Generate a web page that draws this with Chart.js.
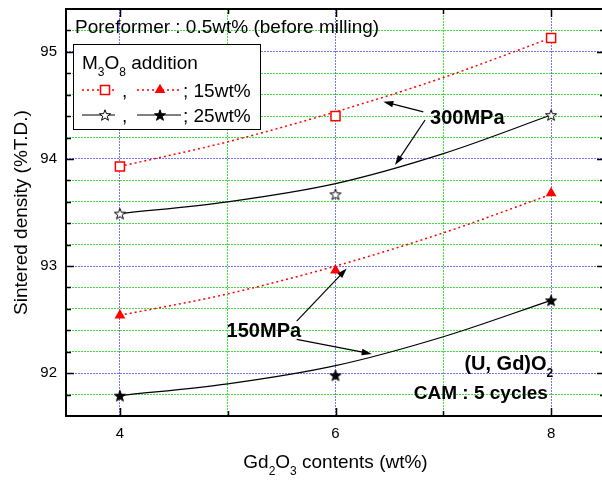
<!DOCTYPE html>
<html>
<head>
<meta charset="utf-8">
<title>Sintered density vs Gd2O3 contents</title>
<script src="https://cdn.jsdelivr.net/npm/chart.js@4.4.1/dist/chart.umd.min.js"></script>
<style>
  html, body { margin: 0; padding: 0; background: #fff; overflow: hidden; }
  /* el marco derecho queda justo fuera de la vista, como en la imagen */
  #wrap { width: 602px; height: 480px; overflow: hidden; }
</style>
</head>
<body>
<div id="wrap"><canvas id="myChart" width="606" height="480"></canvas></div>
<script>
/* Datos */
const gdContents = [4, 6, 8];
const sq300 = [93.93, 94.40, 95.13];      // 15wt%, 300MPa (cuadro abierto)
const star300 = [93.49, 93.67, 94.41];    // 25wt%, 300MPa (estrella abierta)
const tri150 = [92.54, 92.96, 93.68];     // 15wt%, 150MPa (triangulo)
const star150 = [91.79, 91.98, 92.68];    // 25wt%, 150MPa (estrella llena)

const fitX = [4, 5, 6, 7, 8];
const fitSq300 = [93.93, 94.16, 94.44, 94.76, 95.13];
const fitStar300 = [93.49, 93.60, 93.77, 94.05, 94.41];
const fitTri150 = [92.54, 92.74, 93.00, 93.31, 93.67];
const fitStar150 = [91.79, 91.90, 92.07, 92.34, 92.68];

/* Ejes */
const xLabels = [4, 6, 8];
const xMinor = [5, 7];
const yLabels = [92, 93, 94, 95];

const FONT = "'Liberation Sans', Arial, sans-serif";
const BLUE = 'rgba(70, 70, 255, 0.75)';
const GREEN = 'rgba(0, 215, 0, 0.75)';

const pts = (xs, ys) => xs.map((x, i) => ({ x: x, y: ys[i] }));
const isInt = v => Math.abs(v - Math.round(v)) < 1e-6;
const inList = (list, v) => list.some(m => Math.abs(m - v) < 1e-6);

/* Estrella de 5 puntas como imagen */
function makeStar(filled) {
    const c = document.createElement('canvas');
    c.width = 14; c.height = 14;
    const g = c.getContext('2d');
    g.beginPath();
    for (let i = 0; i < 10; i++) {
        const r = i % 2 === 0 ? 5.8 : 2.4;
        const a = -Math.PI / 2 + i * Math.PI / 5;
        const px = 7 + r * Math.cos(a), py = 7.6 + r * Math.sin(a);
        if (i === 0) g.moveTo(px, py); else g.lineTo(px, py);
    }
    g.closePath();
    g.fillStyle = filled ? '#000' : '#fff';
    g.fill();
    g.lineWidth = 1;
    g.strokeStyle = '#000';
    g.stroke();
    return c;
}
const openStar = makeStar(false);
const fullStar = makeStar(true);

/* Texto con subindices: parts = [[texto, esSub], ...] */
function richText(ctx, parts, x, y, size, weight, align) {
    const fontOf = p => `${weight} ${p[1] ? Math.round(size * 0.62) : size}px ${FONT}`;
    let w = 0;
    parts.forEach(p => { ctx.font = fontOf(p); w += ctx.measureText(p[0]).width; });
    let cx = align === 'center' ? x - w / 2 : (align === 'right' ? x - w : x);
    ctx.textAlign = 'left';
    ctx.textBaseline = 'alphabetic';
    ctx.fillStyle = '#000';
    parts.forEach(p => {
        ctx.font = fontOf(p);
        ctx.fillText(p[0], cx, p[1] ? y + size * 0.36 : y);
        cx += ctx.measureText(p[0]).width;
    });
}

function arrow(ctx, x1, y1, x2, y2) {
    const a = Math.atan2(y2 - y1, x2 - x1);
    const len = 10, half = 3.2;
    ctx.beginPath();
    ctx.moveTo(x1, y1);
    ctx.lineTo(x2 - Math.cos(a) * len * 0.8, y2 - Math.sin(a) * len * 0.8);
    ctx.lineWidth = 1.2;
    ctx.strokeStyle = '#000';
    ctx.stroke();
    ctx.beginPath();
    ctx.moveTo(x2, y2);
    ctx.lineTo(x2 - Math.cos(a) * len - Math.sin(a) * half, y2 - Math.sin(a) * len + Math.cos(a) * half);
    ctx.lineTo(x2 - Math.cos(a) * len + Math.sin(a) * half, y2 - Math.sin(a) * len - Math.cos(a) * half);
    ctx.closePath();
    ctx.fillStyle = '#000';
    ctx.fill();
}

/* Anotaciones en unidades de datos */
const notes = [
    { parts: [['300MPa', 0]], x: 6.877, y: 94.33, size: 20, align: 'left' },
    { parts: [['150MPa', 0]], x: 4.99, y: 92.34, size: 20, align: 'left' },
    { parts: [['(U, Gd)O', 0], ['2', 1]], x: 8.02, y: 92.03, size: 20, align: 'right' },
    { parts: [['CAM : 5 cycles', 0]], x: 7.97, y: 91.76, size: 19, align: 'right' }
];
const arrows = [
    [6.815, 94.44, 6.444, 94.535],
    [6.831, 94.364, 6.552, 93.943],
    [5.64, 92.486, 6.104, 92.977],
    [5.64, 92.315, 6.336, 92.18]
];

const framePlugin = {
    id: 'frame',
    afterDraw(chart) {
        const ctx = chart.ctx;
        const ca = chart.chartArea;
        const xs = chart.scales.x, ys = chart.scales.y;
        ctx.save();

        /* Marcas hacia adentro */
        ctx.strokeStyle = '#000';
        ctx.lineWidth = 1.5;
        ys.ticks.forEach(t => {
            if (t.value <= ys.min + 1e-6 || t.value >= ys.max - 1e-6) return;
            const py = Math.round(ys.getPixelForValue(t.value)) + 0.5;
            const len = isInt(t.value) ? 8 : 5;
            ctx.beginPath();
            ctx.moveTo(ca.left, py); ctx.lineTo(ca.left + len, py);
            ctx.moveTo(ca.right, py); ctx.lineTo(ca.right - len, py);
            ctx.stroke();
        });
        xs.ticks.forEach(t => {
            const px = Math.round(xs.getPixelForValue(t.value)) + 0.5;
            const len = inList(xLabels, t.value) ? 8 : 5;
            ctx.beginPath();
            ctx.moveTo(px, ca.bottom); ctx.lineTo(px, ca.bottom - len);
            ctx.moveTo(px, ca.top); ctx.lineTo(px, ca.top + len);
            ctx.stroke();
        });

        /* Marco */
        ctx.lineWidth = 2;
        ctx.strokeRect(ca.left, ca.top, ca.right - ca.left, ca.bottom - ca.top);

        /* Textos */
        richText(ctx, [['Poreformer : 0.5wt% (before milling)', 0]], ca.left + 9, ca.top + 23.5, 19, 'normal', 'left');
        notes.forEach(n => {
            richText(ctx, n.parts, xs.getPixelForValue(n.x), ys.getPixelForValue(n.y), n.size, 'bold', n.align);
        });
        arrows.forEach(a => {
            arrow(ctx, xs.getPixelForValue(a[0]), ys.getPixelForValue(a[1]),
                xs.getPixelForValue(a[2]), ys.getPixelForValue(a[3]));
        });

        /* Leyenda */
        const lx = ca.left + 7, ly = ca.top + 35;
        ctx.fillStyle = '#fff';
        ctx.fillRect(lx, ly, 187, 85);
        ctx.lineWidth = 1;
        ctx.strokeStyle = '#000';
        ctx.strokeRect(lx + 0.5, ly + 0.5, 187, 85);
        richText(ctx, [['M', 0], ['3', 1], ['O', 0], ['8', 1], [' addition', 0]], lx + 9, ly + 25, 19, 'normal', 'left');

        const row = (y, red) => {
            const segs = [[lx + 9, lx + 42], [lx + 64, lx + 108]];
            segs.forEach(s => {
                ctx.save();
                ctx.beginPath();
                ctx.moveTo(s[0], y); ctx.lineTo(s[1], y);
                ctx.lineWidth = red ? 1.5 : 1.2;
                ctx.strokeStyle = red ? 'red' : '#000';
                ctx.setLineDash(red ? [2, 3] : []);
                ctx.stroke();
                ctx.restore();
            });
            const m1 = lx + 32, m2 = lx + 87;
            if (red) {
                ctx.fillStyle = '#fff'; ctx.strokeStyle = 'red'; ctx.lineWidth = 1.5;
                Chart.helpers.drawPoint(ctx, { pointStyle: 'rect', radius: 6.4, borderWidth: 1.5, rotation: 0 }, m1, y);
                ctx.fillStyle = 'red'; ctx.strokeStyle = 'red';
                Chart.helpers.drawPoint(ctx, { pointStyle: 'triangle', radius: 6.2, borderWidth: 0, rotation: 0 }, m2, y);
            } else {
                ctx.drawImage(openStar, m1 - 7, y - 7);
                ctx.drawImage(fullStar, m2 - 7, y - 7);
            }
            richText(ctx, [[',', 0]], lx + 49, y + 6.5, 19, 'normal', 'left');
            richText(ctx, [[red ? '; 15wt%' : '; 25wt%', 0]], lx + 110, y + 6.5, 19, 'normal', 'left');
        };
        row(ly + 46, true);
        row(ly + 71, false);

        /* Titulo del eje x */
        richText(ctx, [['Gd', 0], ['2', 1], ['O', 0], ['3', 1], [' contents (wt%)', 0]],
            (ca.left + ca.right) / 2, 468, 19, 'normal', 'center');
        ctx.restore();
    }
};

const gridColor = (ctx, majors, isMinor) => {
    const v = ctx.tick ? ctx.tick.value : null;
    if (v === null) return 'rgba(0,0,0,0)';
    if (inList(majors, v)) return BLUE;
    if (isMinor(v)) return GREEN;
    return 'rgba(0,0,0,0)';
};

const config = {
    type: 'scatter',
    data: {
        datasets: [
            {
                label: '15wt% 300MPa',
                data: pts(gdContents, sq300),
                pointStyle: 'rect', pointRadius: 6.4, pointBorderWidth: 1.5,
                pointBackgroundColor: '#fff', pointBorderColor: 'red', showLine: false
            },
            {
                label: '25wt% 300MPa',
                data: pts(gdContents, star300),
                pointStyle: openStar, pointRadius: 6, showLine: false
            },
            {
                label: '15wt% 150MPa',
                data: pts(gdContents, tri150),
                pointStyle: 'triangle', pointRadius: 6.2, pointBorderWidth: 0,
                pointBackgroundColor: 'red', pointBorderColor: 'red', showLine: false
            },
            {
                label: '25wt% 150MPa',
                data: pts(gdContents, star150),
                pointStyle: fullStar, pointRadius: 6, showLine: false
            },
            {
                label: 'fit 15wt% 300MPa',
                data: pts(fitX, fitSq300),
                showLine: true, pointRadius: 0, borderColor: 'red', borderWidth: 1.5,
                borderDash: [2, 3], cubicInterpolationMode: 'monotone'
            },
            {
                label: 'fit 25wt% 300MPa',
                data: pts(fitX, fitStar300),
                showLine: true, pointRadius: 0, borderColor: '#000', borderWidth: 1.2,
                cubicInterpolationMode: 'monotone'
            },
            {
                label: 'fit 15wt% 150MPa',
                data: pts(fitX, fitTri150),
                showLine: true, pointRadius: 0, borderColor: 'red', borderWidth: 1.5,
                borderDash: [2, 3], cubicInterpolationMode: 'monotone'
            },
            {
                label: 'fit 25wt% 150MPa',
                data: pts(fitX, fitStar150),
                showLine: true, pointRadius: 0, borderColor: '#000', borderWidth: 1.2,
                cubicInterpolationMode: 'monotone'
            }
        ]
    },
    options: {
        responsive: false,
        animation: false,
        layout: { autoPadding: false, padding: { top: 9, right: 1, left: 0, bottom: 0 } },
        plugins: {
            legend: { display: false },
            tooltip: { enabled: false }
        },
        scales: {
            x: {
                type: 'linear',
                min: 3.5,
                max: 8.5,
                afterBuildTicks: s => {
                    s.ticks = xLabels.concat(xMinor).sort((a, b) => a - b).map(v => ({ value: v }));
                },
                afterFit: s => { s.height = 64; s.paddingLeft = 0; s.paddingRight = 0; },
                border: { display: false, dash: [2, 1] },
                grid: {
                    drawTicks: false,
                    lineWidth: 1,
                    color: ctx => gridColor(ctx, xLabels, v => inList(xMinor, v))
                },
                ticks: {
                    autoSkip: false,
                    maxRotation: 0,
                    padding: 9,
                    color: '#000',
                    font: { family: FONT, size: 15 },
                    callback: v => (inList(xLabels, v) ? Math.round(v) : '')
                }
            },
            y: {
                min: 91.6,
                max: 95.4,
                afterFit: s => { s.width = 66; s.paddingTop = 0; s.paddingBottom = 0; },
                border: { display: false, dash: [2, 1] },
                grid: {
                    drawTicks: false,
                    lineWidth: 1,
                    color: ctx => gridColor(ctx, yLabels, v => v > 91.7 && v < 95.3)
                },
                ticks: {
                    stepSize: 0.2,
                    autoSkip: false,
                    padding: 9,
                    color: '#000',
                    font: { family: FONT, size: 15 },
                    callback: v => (isInt(v) && yLabels.includes(Math.round(v)) ? Math.round(v) : '')
                },
                title: {
                    display: true,
                    text: 'Sintered density (%T.D.)',
                    color: '#000',
                    font: { family: FONT, size: 19 },
                    padding: { top: 10, bottom: 0 }
                }
            }
        }
    },
    plugins: [framePlugin]
};

const myChart = new Chart(document.getElementById('myChart'), config);
</script>
</body>
</html>
